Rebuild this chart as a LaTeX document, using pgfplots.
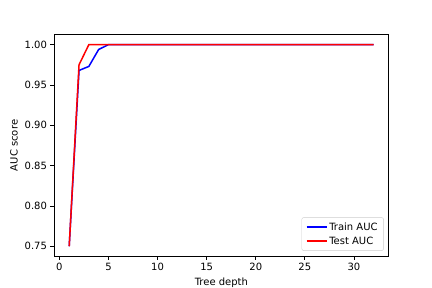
\documentclass[border=0pt]{standalone}
\usepackage{pgfplots}
\pgfplotsset{compat=1.18}
\usepackage{fontspec}
\setmainfont{DejaVu Sans}
\begin{document}
\begin{tikzpicture}
\path[use as bounding box] (-54pt,-31.68pt) rectangle (378pt,256.32pt);
\begin{axis}[
  at={(0,0)}, anchor=south west,
  scale only axis, width=334.8pt, height=221.76pt,
  xmin=-0.55, xmax=33.55, ymin=0.7375, ymax=1.0125,
  xtick={0,5,10,15,20,25,30},
  ytick={0.75,0.80,0.85,0.90,0.95,1.00},
  yticklabel style={/pgf/number format/.cd, fixed, fixed zerofill, precision=2},
  /pgf/number format/assume math mode=true,
  tick align=outside, tick pos=left,
  major tick length=3.5pt,
  tick style={black, line width=0.8pt},
  axis line style={line width=0.8pt},
  ticklabel style={font=\fontsize{10}{12}\selectfont},
  label style={font=\fontsize{10}{12}\selectfont},
  xlabel={Tree depth}, ylabel={AUC score},
  legend cell align=left,
  legend style={at={(0.985,0.025)}, anchor=south east, draw=black!20, rounded corners=2pt, fill=white, font=\fontsize{10}{12}\selectfont, inner xsep=4pt, inner ysep=3pt, row sep=1pt},
  legend image code/.code={\draw[#1, line width=1.5pt] (0pt,0pt) -- (20pt,0pt);},
]
\addplot[blue, line width=1.5pt] coordinates {
(1,0.750) (2,0.968) (3,0.973) (4,0.994) (5,1.0) (6,1.0) (7,1.0) (8,1.0) (9,1.0) (10,1.0)
(11,1.0) (12,1.0) (13,1.0) (14,1.0) (15,1.0) (16,1.0) (17,1.0) (18,1.0) (19,1.0) (20,1.0)
(21,1.0) (22,1.0) (23,1.0) (24,1.0) (25,1.0) (26,1.0) (27,1.0) (28,1.0) (29,1.0) (30,1.0) (31,1.0) (32,1.0)};
\addlegendentry{Train AUC}
\addplot[red, line width=1.5pt] coordinates {
(1,0.750) (2,0.975) (3,1.0) (4,1.0) (5,1.0) (6,1.0) (7,1.0) (8,1.0) (9,1.0) (10,1.0)
(11,1.0) (12,1.0) (13,1.0) (14,1.0) (15,1.0) (16,1.0) (17,1.0) (18,1.0) (19,1.0) (20,1.0)
(21,1.0) (22,1.0) (23,1.0) (24,1.0) (25,1.0) (26,1.0) (27,1.0) (28,1.0) (29,1.0) (30,1.0) (31,1.0) (32,1.0)};
\addlegendentry{Test AUC}
\end{axis}
\end{tikzpicture}
\end{document}
